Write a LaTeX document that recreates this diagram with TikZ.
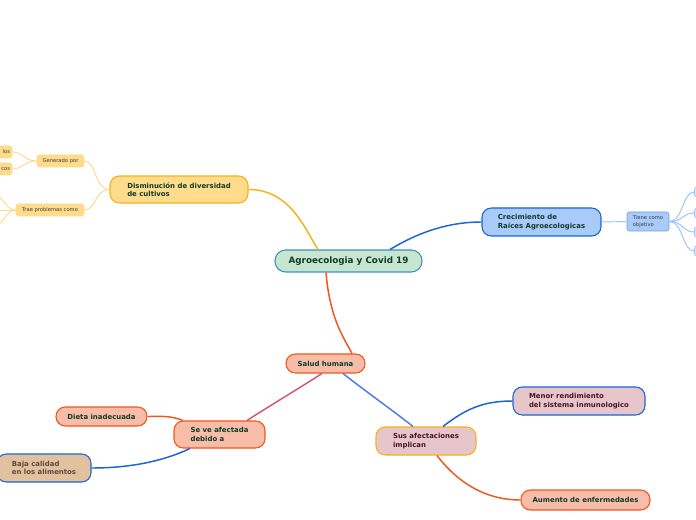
\documentclass[tikz,border=0pt]{standalone}
\usepackage{fontspec}
\setmainfont{DejaVu Sans}
\usetikzlibrary{calc}
\definecolor{cYel}{HTML}{F5B21B}
\definecolor{fYel}{HTML}{FFDB8C}
\definecolor{lYel}{HTML}{FFD98A}
\definecolor{cBlue}{HTML}{1B64D6}
\definecolor{fBlue}{HTML}{A8CBFA}
\definecolor{lBlue}{HTML}{9CC3F5}
\definecolor{dBlue}{HTML}{6E9DE8}
\definecolor{fCen}{HTML}{C6E6CF}
\definecolor{cCen}{HTML}{3C91C6}
\definecolor{fSal}{HTML}{F8BDA9}
\definecolor{cSal}{HTML}{F2561D}
\definecolor{cPink}{HTML}{D65670}
\definecolor{cBlue2}{HTML}{5078F0}
\definecolor{fPink}{HTML}{E6C6CB}
\definecolor{fTan}{HTML}{E2C19F}
\definecolor{tGreen}{HTML}{0E3B2A}
\definecolor{tMar}{HTML}{4B1327}
\definecolor{tBrown}{HTML}{5B4B3C}
\definecolor{tGray}{HTML}{3A3A3A}
\tikzset{
  mainbox/.style={draw, line width=0.8pt, rounded corners=7pt, inner sep=0pt, align=left, font=\fontsize{5.2}{6.2}\selectfont\bfseries, text=tGreen},
  smallbox/.style={draw, line width=0.5pt, rounded corners=2pt, inner sep=0pt, align=left, font=\fontsize{3.9}{4.6}\selectfont, text=tGray},
  conn/.style={line width=1.1pt},
  thin/.style={line width=0.7pt}
}
\begin{document}
\begin{tikzpicture}[x=0.75pt,y=-0.75pt]
\fill[white] (0,0) rectangle (696,520);
\useasboundingbox (0,0) rectangle (696,520);
\begin{scope}
\clip (0,0) rectangle (696,520);
% nodes
\node[mainbox, fill=fCen, draw=cCen, minimum width=110.25pt, minimum height=16.5pt, font=\fontsize{6.6}{7.6}\selectfont\bfseries, rounded corners=8pt] (c) at (348.5,261) {Agroecologia y Covid 19};
\node[mainbox, fill=fYel, draw=cYel, minimum width=103.5pt, minimum height=20.25pt] (d) at (179,189.5) {Disminución de diversidad\\de cultivos};
\node[smallbox, fill=fYel, draw=lYel, minimum width=35.25pt, minimum height=9pt] (g) at (60.5,161) {Generado por};
\node[smallbox, fill=fYel, draw=lYel, minimum width=51pt, minimum height=9pt] (t) at (50,210) {Trae problemas como};
\node[smallbox, fill=fYel, draw=lYel, minimum width=39pt, minimum height=9pt, text width=36pt, align=right] (g1) at (-14,152) {los};
\node[smallbox, fill=fYel, draw=lYel, minimum width=39pt, minimum height=9pt, text width=36pt, align=right] (g2) at (-14,169) {cos};
\coordinate (t1) at (-2,196);
\coordinate (t2) at (-2,210);
\coordinate (t3) at (-2,225);
\node[mainbox, fill=fBlue, draw=cBlue, minimum width=89.25pt, minimum height=21pt] (r) at (541.5,222) {Crecimiento de\\Raíces Agroecologicas};
\node[smallbox, fill=fBlue, draw=dBlue, minimum width=31.5pt, minimum height=14.25pt] (o) at (648,221.5) {Tiene como\\objetivo};
\foreach \i/\y in {1/192,2/213,3/232,4/251}{
  \node[smallbox, fill=fBlue!40, draw=lBlue, minimum width=30pt, minimum height=8pt] (o\i) at (714.5,\y) {};
}
\node[mainbox, fill=fSal, draw=cSal, minimum width=59.25pt, minimum height=14.25pt] (s) at (325.5,363.5) {Salud humana};
\node[mainbox, fill=fSal, draw=cSal, minimum width=68.25pt, minimum height=20.25pt] (a) at (219.5,434.5) {Se ve afectada\\debido a};
\node[mainbox, fill=fSal, draw=cSal, minimum width=68.25pt, minimum height=14.25pt] (di) at (101.5,416.5) {Dieta inadecuada};
\node[mainbox, fill=fTan, draw=cBlue, minimum width=70.5pt, minimum height=21pt, text=tBrown] (b) at (44,468) {Baja calidad\\en los alimentos};
\node[mainbox, fill=fPink, draw=cYel, minimum width=75pt, minimum height=21pt, text=tMar] (i) at (426,441) {Sus afectaciones\\implican};
\node[mainbox, fill=fPink, draw=cBlue, minimum width=99pt, minimum height=21pt, text=tMar] (m) at (579,401) {Menor rendimiento\\del sistema inmunologico};
\node[mainbox, fill=fSal, draw=cSal, minimum width=96.75pt, minimum height=15pt] (e) at (585.5,500) {Aumento de enfermedades};
% connectors
\draw[conn, cYel] (d.east) .. controls +(42,0) and +(-13,-20) .. ($(c.north)+(-30.5,0)$);
\draw[conn, cBlue] ($(c.north)+(41.5,0)$) .. controls +(30,-18) and +(-32,0) .. (r.west);
\draw[conn, cSal] ($(c.south)+(-22.5,0)$) .. controls +(4,48) and +(-7,-14) .. ($(s.north)+(26.5,0)$);
\draw[conn, cPink] ($(s.south)+(-3.5,0)$) .. controls +(-25,16) and +(25,-16) .. ($(a.north)+(27.5,0)$);
\draw[conn, cBlue2] ($(s.south)+(17.5,0)$) .. controls +(23,18) and +(-23,-18) .. ($(i.north)+(-13,0)$);
\draw[conn, cSal] ($(a.north)+(-36.5,0)$) .. controls +(-13,-5) and +(15,0) .. (di.east);
\draw[conn, cBlue] ($(a.south)+(-29.5,0)$) .. controls +(-30,14) and +(35,0) .. (b.east);
\draw[conn, cBlue] ($(i.north)+(17,0)$) .. controls +(22,-17) and +(-30,0) .. (m.west);
\draw[conn, cSal] ($(i.south)+(11,0)$) .. controls +(23,30) and +(-32,0) .. (e.west);
\draw[thin, lYel] (d.west) .. controls +(-15,0) and +(12,0) .. (g.east);
\draw[thin, lYel] (d.west) .. controls +(-15,0) and +(12,0) .. (t.east);
\draw[thin, lYel] (g.west) .. controls +(-12,0) and +(10,0) .. (g1.east);
\draw[thin, lYel] (g.west) .. controls +(-12,0) and +(10,0) .. (g2.east);
\draw[thin, lYel] (t.west) .. controls +(-8,0) and +(6,4) .. (t1);
\draw[thin, lYel] (t.west) -- (t2);
\draw[thin, lYel] (t.west) .. controls +(-8,0) and +(6,-4) .. (t3);
\draw[thin, lBlue] (r.east) -- (o.west);
\foreach \i in {1,2,3,4}{
  \draw[thin, lBlue] (o.east) .. controls +(14,0) and +(-12,0) .. (o\i.west);
}
\end{scope}
\end{tikzpicture}
\end{document}
